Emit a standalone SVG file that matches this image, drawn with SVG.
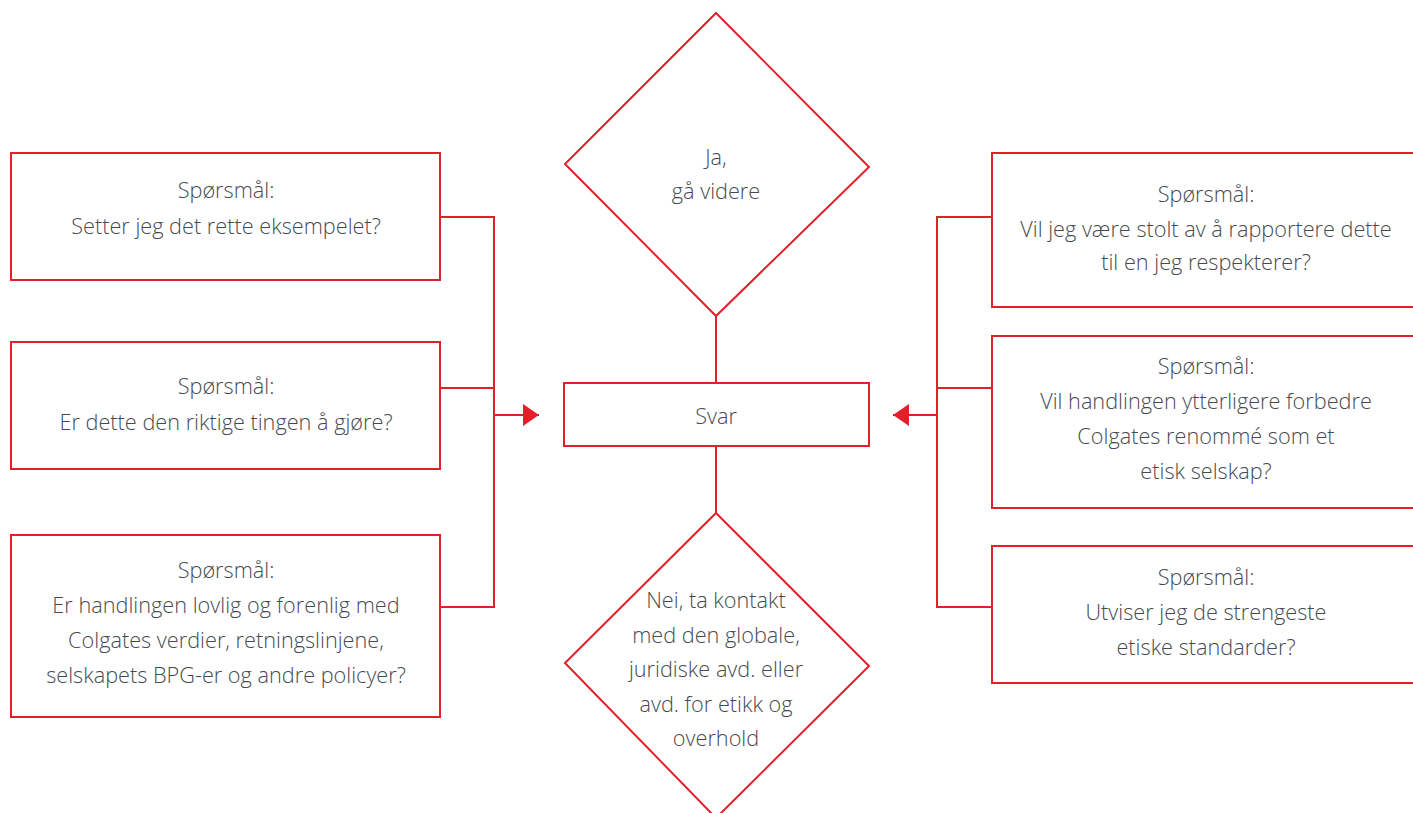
<svg xmlns="http://www.w3.org/2000/svg" width="1413" height="813" viewBox="0 0 1413 813">
<style>
.n{fill:#fff;stroke:#e3202a;stroke-width:2}
.c{fill:none;stroke:#e3202a;stroke-width:2}
text{font-family:"Open Sans","Liberation Sans",sans-serif;font-weight:300;font-size:21.7px;fill:#464a50;text-anchor:middle}
</style>
<defs>
<marker id="a" viewBox="0 0 16 22" refX="16" refY="11" markerWidth="16" markerHeight="22" markerUnits="userSpaceOnUse" orient="auto">
<path d="M0,0L16,11L0,22z" fill="#e3202a"/>
</marker>
</defs>
<g id="connectors">
<path class="c" d="M440,217H494V607H440M440,388H494M494,415H539" marker-end="url(#a)"/>
<path class="c" d="M992,217H937V607H992M992,388H937M937,415H893" marker-end="url(#a)"/>
<path class="c" d="M716,316V383M716,446V513"/>
</g>
<g id="q1"><rect class="n" x="11" y="153" width="429" height="127"/>
<text x="226" y="198">Spørsmål:</text><text x="226" y="234">Setter jeg det rette eksempelet?</text></g>
<g id="q2"><rect class="n" x="11" y="342" width="429" height="127"/>
<text x="226" y="394">Spørsmål:</text><text x="226" y="430">Er dette den riktige tingen å gjøre?</text></g>
<g id="q3"><rect class="n" x="11" y="535" width="429" height="182"/>
<text x="226" y="578">Spørsmål:</text><text x="226" y="613">Er handlingen lovlig og forenlig med</text><text x="226" y="648">Colgates verdier, retningslinjene,</text><text x="226" y="683">selskapets BPG-er og andre policyer?</text></g>
<g id="yes"><path class="n" d="M716,13L869,167L716,316L565,164Z"/>
<text x="716" y="165">Ja,</text><text x="716" y="199">gå videre</text></g>
<g id="svar"><rect class="n" x="564" y="383" width="305" height="63"/>
<text x="716" y="424">Svar</text></g>
<g id="no"><path class="n" d="M716,513L869,666L716,818L565,663Z"/>
<text x="716" y="608">Nei, ta kontakt</text><text x="716" y="643">med den globale,</text><text x="716" y="677">juridiske avd. eller</text><text x="716" y="712">avd. for etikk og</text><text x="716" y="746">overhold</text></g>
<g id="q4"><rect class="n" x="992" y="153" width="440" height="154"/>
<text x="1206" y="202">Spørsmål:</text><text x="1206" y="237">Vil jeg være stolt av å rapportere dette</text><text x="1206" y="270">til en jeg respekterer?</text></g>
<g id="q5"><rect class="n" x="992" y="336" width="440" height="172"/>
<text x="1206" y="374">Spørsmål:</text><text x="1206" y="409">Vil handlingen ytterligere forbedre</text><text x="1206" y="444">Colgates renommé som et</text><text x="1206" y="479">etisk selskap?</text></g>
<g id="q6"><rect class="n" x="992" y="546" width="440" height="137"/>
<text x="1206" y="585">Spørsmål:</text><text x="1206" y="620">Utviser jeg de strengeste</text><text x="1206" y="655">etiske standarder?</text></g>
</svg>
